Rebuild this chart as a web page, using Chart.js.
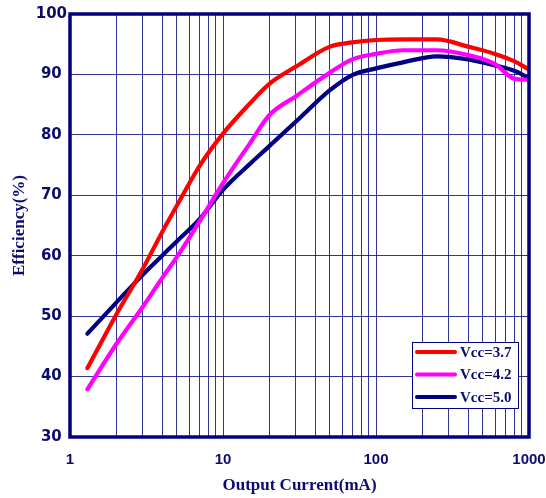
<!DOCTYPE html>
<html>
<head>
<meta charset="utf-8">
<script src="https://cdn.jsdelivr.net/npm/chart.js"></script>
<style>
  html, body { margin: 0; padding: 0; background: #ffffff; }
  #wrap { width: 546px; height: 498px; }
</style>
</head>
<body>
<div id="wrap"><canvas id="c" width="546" height="498"></canvas></div>
<script>
// ---- data ----
const currents = [1.3, 2, 3, 4, 5, 7, 10, 15, 20, 30, 50, 70, 100, 150, 250, 400, 600, 800, 1000];
const effVcc37 = [41.4, 50.2, 57.9, 63.9, 68.3, 74.8, 80.2, 85.2, 88.4, 91.3, 94.6, 95.3, 95.7, 95.8, 95.8, 94.6, 93.4, 92.2, 90.8];
const effVcc42 = [37.9, 45.3, 51.6, 56.3, 59.8, 65.6, 72.0, 78.6, 83.2, 86.4, 90.3, 92.5, 93.4, 94.0, 94.0, 93.2, 91.7, 89.3, 89.1];
const effVcc50 = [47.1, 52.2, 56.9, 60.0, 62.4, 66.0, 70.9, 75.2, 78.1, 82.2, 87.4, 89.9, 91.0, 92.0, 93.0, 92.5, 91.5, 90.6, 89.4];
const seriesLabels = ['Vcc=3.7', 'Vcc=4.2', 'Vcc=5.0'];
const xTickLabels = ['1', '10', '100', '1000'];
const yTickValues = [30, 40, 50, 60, 70, 80, 90, 100];
const xTitle = 'Output Current(mA)';
const yTitle = 'Efficiency(%)';

const NAVY = '#000080';
const TEXT = '#0c0c6e';
const colors = ['#ff0000', '#ff00ff', '#000080'];

function pts(ys) { return currents.map((x, i) => ({ x: x, y: ys[i] })); }

// grid positions for the log axis: 1..9 within every decade, up to 1000
const logGrid = [];
for (let d = 1; d < 1000; d *= 10) { for (let m = 1; m < 10; m++) logGrid.push(m * d); }
logGrid.push(1000);

const framePlugin = {
  id: 'frame',
  afterDatasetsDraw(chart) {
    const a = chart.chartArea, ctx = chart.ctx;
    ctx.save();
    ctx.strokeStyle = NAVY;
    ctx.lineWidth = 3.5;
    ctx.strokeRect(a.left, a.top, a.right - a.left, a.bottom - a.top);
    ctx.restore();
  }
};

const legendPlugin = {
  id: 'innerLegend',
  afterDraw(chart) {
    const a = chart.chartArea, ctx = chart.ctx;
    const w = 106, h = 66;
    const x0 = a.right - 11 - w, y0 = a.bottom - 29 - h;
    ctx.save();
    ctx.fillStyle = '#ffffff';
    ctx.fillRect(x0, y0, w, h);
    ctx.strokeStyle = NAVY;
    ctx.lineWidth = 1;
    ctx.strokeRect(x0 + 0.5, y0 + 0.5, w, h);
    ctx.font = 'bold 15px "Liberation Serif", "Times New Roman", serif';
    ctx.textBaseline = 'middle';
    ctx.textAlign = 'left';
    chart.data.datasets.forEach((ds, i) => {
      const y = y0 + 10 + i * 22.5;
      ctx.strokeStyle = ds.borderColor;
      ctx.lineWidth = 4;
      ctx.lineCap = 'round';
      ctx.beginPath();
      ctx.moveTo(x0 + 5, y);
      ctx.lineTo(x0 + 43, y);
      ctx.stroke();
      ctx.fillStyle = TEXT;
      ctx.fillText(ds.label, x0 + 48, y + 1);
    });
    ctx.restore();
  }
};

new Chart(document.getElementById('c'), {
  type: 'line',
  data: {
    datasets: [effVcc37, effVcc42, effVcc50].map((ys, i) => ({
      label: seriesLabels[i],
      data: pts(ys),
      borderColor: colors[i],
      backgroundColor: colors[i],
      borderWidth: 4.2,
      borderCapStyle: 'round',
      borderJoinStyle: 'round',
      pointRadius: 0,
      cubicInterpolationMode: 'monotone',
      fill: false
    }))
  },
  options: {
    responsive: false,
    animation: false,
    layout: { padding: { left: 0, top: 14, right: 0, bottom: 0 } },
    plugins: { legend: { display: false }, tooltip: { enabled: false } },
    scales: {
      x: {
        type: 'logarithmic',
        min: 1, max: 1000,
        afterBuildTicks(scale) { scale.ticks = logGrid.map(v => ({ value: v })); },
        afterFit(scale) { scale.height = 61; scale.paddingRight = 17; scale.paddingLeft = 0; },
        grid: { color: 'rgba(0,0,128,0.8)', lineWidth: 1, drawTicks: false },
        border: { display: false },
        ticks: {
          autoSkip: false, maxRotation: 0, padding: 14,
          color: TEXT,
          font: { family: '"Liberation Sans", Arial, sans-serif', weight: 'bold', size: 15 },
          callback(v) { const s = String(v); return xTickLabels.includes(s) ? s : ''; }
        },
        title: {
          display: true, text: xTitle, color: TEXT,
          font: { family: '"Liberation Serif", "Times New Roman", serif', weight: 'bold', size: 17 },
          padding: { top: 0, bottom: 2 }
        }
      },
      y: {
        type: 'linear',
        min: 30, max: 100,
        afterBuildTicks(scale) { scale.ticks = yTickValues.map(v => ({ value: v })); },
        afterFit(scale) { scale.width = 70; scale.paddingTop = 0; scale.paddingBottom = 0; },
        grid: { color: 'rgba(0,0,128,0.8)', lineWidth: 1, drawTicks: false },
        border: { display: false },
        ticks: {
          padding: 3, crossAlign: 'center',
          color: TEXT,
          font: { family: '"DejaVu Sans", sans-serif', weight: 'bold', size: 15 }
        },
        title: {
          display: true, text: yTitle, color: TEXT,
          font: { family: '"Liberation Serif", "Times New Roman", serif', weight: 'bold', size: 17 },
          padding: { top: 9, bottom: 0 }
        }
      }
    }
  },
  plugins: [framePlugin, legendPlugin]
});
</script>
</body>
</html>
